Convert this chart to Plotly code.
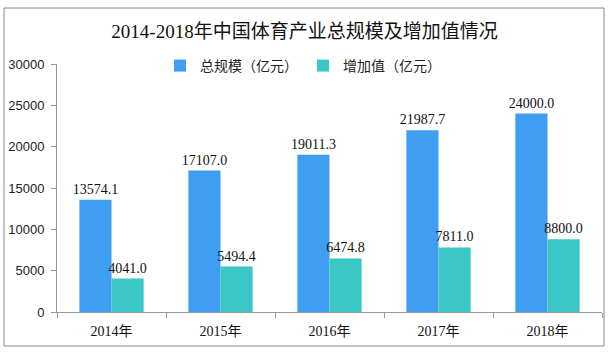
import plotly.graph_objects as go

years = ["2014年", "2015年", "2016年", "2017年", "2018年"]
total_scale = [13574.1, 17107.0, 19011.3, 21987.7, 24000.0]
added_value = [4041.0, 5494.4, 6474.8, 7811.0, 8800.0]
y_ticks = [0, 5000, 10000, 15000, 20000, 25000, 30000]

BLUE = "#3F9EF1"
TEAL = "#3CC7C7"
SERIF = "Liberation Serif, Noto Sans CJK SC, serif"
SANS = "Liberation Sans, Arial, sans-serif"
CJK = "Noto Sans CJK SC, sans-serif"

fig = go.Figure()
fig.add_trace(go.Bar(
    x=years, y=total_scale, name="总规模（亿元）",
    marker=dict(color=BLUE, line=dict(width=0)),
    text=[f"{v:.1f}" for v in total_scale], textposition="outside",
    constraintext="none",
    textfont=dict(family=SERIF, size=14, color="#111"), cliponaxis=False,
))
fig.add_trace(go.Bar(
    x=years, y=added_value, name="增加值（亿元）",
    marker=dict(color=TEAL, line=dict(width=0)),
    text=[f"{v:.1f}" for v in added_value], textposition="outside",
    constraintext="none",
    textfont=dict(family=SERIF, size=14, color="#111"), cliponaxis=False,
))

L, R, T, B = 57, 7, 64, 41
W, H = 609, 353
pw, ph = W - L - R, H - T - B

def px_x(p):
    return (p - L) / pw

def px_y(p):
    return (H - B - p) / ph

fig.update_layout(
    width=W, height=H,
    margin=dict(l=L, r=R, t=T, b=B),
    paper_bgcolor="white", plot_bgcolor="white",
    barmode="group", bargap=0.41, bargroupgap=0,
    title=dict(text="2014-2018年中国体育产业总规模及增加值情况",
               font=dict(family=SERIF, size=19, color="#111"),
               x=0.5, xanchor="center", xref="container",
               y=1 - 31 / H, yanchor="middle", yref="container"),
    legend=dict(orientation="h", x=px_x(303), xanchor="center",
                y=px_y(66), yanchor="middle",
                font=dict(family=CJK, size=14, color="#222"),
                itemwidth=30, tracegroupgap=0, bgcolor="rgba(0,0,0,0)"),
    showlegend=True,
    xaxis=dict(showline=True, linecolor="#999", linewidth=1,
               ticks="outside", tickson="boundaries", ticklen=5, tickcolor="#999",
               ticklabelstandoff=6,
               tickfont=dict(family=SERIF, size=14, color="#111"),
               showgrid=False, zeroline=False),
    yaxis=dict(range=[0, 30000], tickvals=y_ticks, ticktext=[str(v) for v in y_ticks],
               showline=True, linecolor="#999", linewidth=1,
               ticks="outside", ticklen=5, tickcolor="#999",
               ticklabelstandoff=4,
               tickfont=dict(family=SANS, size=13, color="#222"),
               showgrid=False, zeroline=False),
    shapes=[dict(type="rect", xref="paper", yref="paper",
                 x0=px_x(4), x1=px_x(604), y0=px_y(346), y1=px_y(8),
                 line=dict(color="#888", width=1), fillcolor="rgba(0,0,0,0)",
                 layer="below")],
)

fig.write_html("out.html")
